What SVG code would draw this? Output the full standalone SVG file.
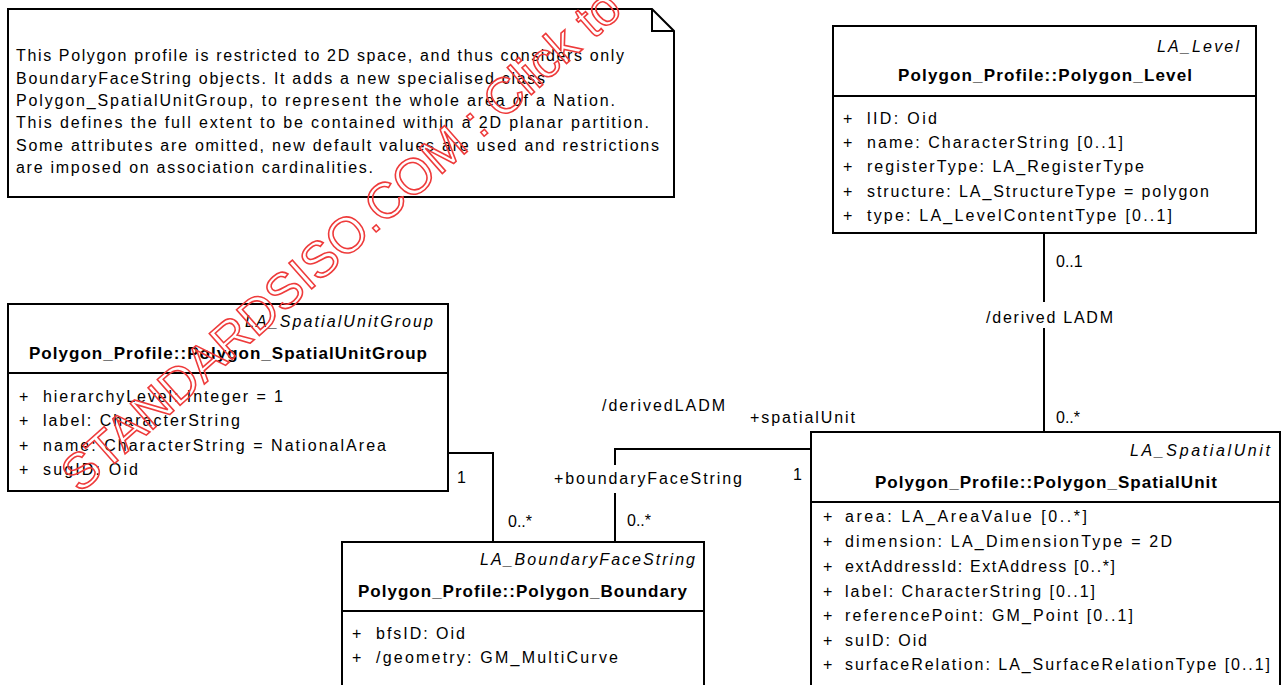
<svg xmlns="http://www.w3.org/2000/svg" width="1287" height="685" viewBox="0 0 1287 685">
<style>
text{font-family:"Liberation Sans",Arial,sans-serif;font-size:16px;fill:#000}
.t{font-weight:bold;font-size:17px}
.s{font-style:italic}
.box{fill:#fff;stroke:#000;stroke-width:2}
.ln{fill:none;stroke:#000;stroke-width:2}
.wm{font-size:50px;fill:none;stroke:#ee3b3b;stroke-width:1.6}
</style>
<rect width="1287" height="685" fill="#fff"/>
<g id="note">
<polygon class="box" points="8,9 652,9 674,31 674,197 8,197"/>
<polyline class="ln" points="652,9 652,31 674,31"/>
<text x="16" y="61" textLength="608" lengthAdjust="spacing">This Polygon profile is restricted to 2D space, and thus considers only</text>
<text x="16" y="83.5" textLength="529" lengthAdjust="spacing">BoundaryFaceString objects. It adds a new specialised class</text>
<text x="16" y="106" textLength="599" lengthAdjust="spacing">Polygon_SpatialUnitGroup, to represent the whole area of a Nation.</text>
<text x="16" y="128" textLength="633" lengthAdjust="spacing">This defines the full extent to be contained within a 2D planar partition.</text>
<text x="16" y="150.5" textLength="643" lengthAdjust="spacing">Some attributes are omitted, new default values are used and restrictions</text>
<text x="16" y="173" textLength="357" lengthAdjust="spacing">are imposed on association cardinalities.</text>
</g>
<g id="connectors">
<polyline class="ln" points="448,453 493,453 493,542"/>
<polyline class="ln" points="615,465 615,449 811,449"/>
<line class="ln" x1="615" y1="493" x2="615" y2="542"/>
<line class="ln" x1="1044" y1="233" x2="1044" y2="302"/>
<line class="ln" x1="1044" y1="328" x2="1044" y2="432"/>
<text x="457" y="483">1</text>
<text x="508" y="527">0..*</text>
<text x="627" y="526">0..*</text>
<text x="793" y="480">1</text>
<text x="602" y="411" textLength="123" lengthAdjust="spacing">/derivedLADM</text>
<text x="750" y="423" textLength="105" lengthAdjust="spacing">+spatialUnit</text>
<text x="554" y="484" textLength="188" lengthAdjust="spacing">+boundaryFaceString</text>
<text x="1056" y="267">0..1</text>
<text x="986" y="323" textLength="127" lengthAdjust="spacing">/derived LADM</text>
<text x="1056" y="423">0..*</text>
</g>
<g id="level">
<rect class="box" x="833" y="26" width="423" height="207"/>
<line class="ln" x1="833" y1="96" x2="1256" y2="96"/>
<text class="s" x="1157" y="52" textLength="82" lengthAdjust="spacing">LA_Level</text>
<text class="t" x="898" y="81" textLength="294" lengthAdjust="spacing">Polygon_Profile::Polygon_Level</text>
<text x="843" y="124">+</text><text x="867" y="124" textLength="70" lengthAdjust="spacing">lID: Oid</text>
<text x="843" y="148">+</text><text x="867" y="148" textLength="256" lengthAdjust="spacing">name: CharacterString [0..1]</text>
<text x="843" y="172">+</text><text x="867" y="172" textLength="277" lengthAdjust="spacing">registerType: LA_RegisterType</text>
<text x="843" y="197">+</text><text x="867" y="197" textLength="342" lengthAdjust="spacing">structure: LA_StructureType = polygon</text>
<text x="843" y="221">+</text><text x="867" y="221" textLength="305" lengthAdjust="spacing">type: LA_LevelContentType [0..1]</text>
</g>
<g id="spatialUnitGroup">
<rect class="box" x="8" y="304" width="440" height="187"/>
<line class="ln" x1="8" y1="373" x2="448" y2="373"/>
<text class="s" x="245" y="327" textLength="188" lengthAdjust="spacing">LA_SpatialUnitGroup</text>
<text class="t" x="29" y="359" textLength="398" lengthAdjust="spacing">Polygon_Profile::Polygon_SpatialUnitGroup</text>
<text x="19" y="402">+</text><text x="43" y="402" textLength="240" lengthAdjust="spacing">hierarchyLevel: Integer = 1</text>
<text x="19" y="426">+</text><text x="43" y="426" textLength="197" lengthAdjust="spacing">label: CharacterString</text>
<text x="19" y="451">+</text><text x="43" y="451" textLength="343" lengthAdjust="spacing">name: CharacterString = NationalArea</text>
<text x="19" y="475">+</text><text x="43" y="475" textLength="95" lengthAdjust="spacing">sugID: Oid</text>
</g>
<g id="boundary">
<rect class="box" x="342" y="542" width="362" height="160"/>
<line class="ln" x1="342" y1="611" x2="704" y2="611"/>
<text class="s" x="480" y="565" textLength="215" lengthAdjust="spacing">LA_BoundaryFaceString</text>
<text class="t" x="358" y="597" textLength="329" lengthAdjust="spacing">Polygon_Profile::Polygon_Boundary</text>
<text x="352" y="639">+</text><text x="376" y="639" textLength="89" lengthAdjust="spacing">bfsID: Oid</text>
<text x="352" y="663">+</text><text x="376" y="663" textLength="242" lengthAdjust="spacing">/geometry: GM_MultiCurve</text>
</g>
<g id="spatialUnit">
<rect class="box" x="811" y="432" width="469" height="270"/>
<line class="ln" x1="811" y1="502" x2="1280" y2="502"/>
<text class="s" x="1130" y="456" textLength="140" lengthAdjust="spacing">LA_SpatialUnit</text>
<text class="t" x="875" y="488" textLength="342" lengthAdjust="spacing">Polygon_Profile::Polygon_SpatialUnit</text>
<text x="823" y="522">+</text><text x="845" y="522" textLength="242" lengthAdjust="spacing">area: LA_AreaValue [0..*]</text>
<text x="823" y="547">+</text><text x="845" y="547" textLength="327" lengthAdjust="spacing">dimension: LA_DimensionType = 2D</text>
<text x="823" y="572">+</text><text x="845" y="572" textLength="270" lengthAdjust="spacing">extAddressId: ExtAddress [0..*]</text>
<text x="823" y="597">+</text><text x="845" y="597" textLength="250" lengthAdjust="spacing">label: CharacterString [0..1]</text>
<text x="823" y="621">+</text><text x="845" y="621" textLength="288" lengthAdjust="spacing">referencePoint: GM_Point [0..1]</text>
<text x="823" y="646">+</text><text x="845" y="646" textLength="82" lengthAdjust="spacing">suID: Oid</text>
<text x="823" y="670">+</text><text x="845" y="670" textLength="425" lengthAdjust="spacing">surfaceRelation: LA_SurfaceRelationType [0..1]</text>
</g>
<text class="wm" x="80" y="494" transform="rotate(-41.5 80 494)">STANDARDSISO.COM : Click to</text>
</svg>
